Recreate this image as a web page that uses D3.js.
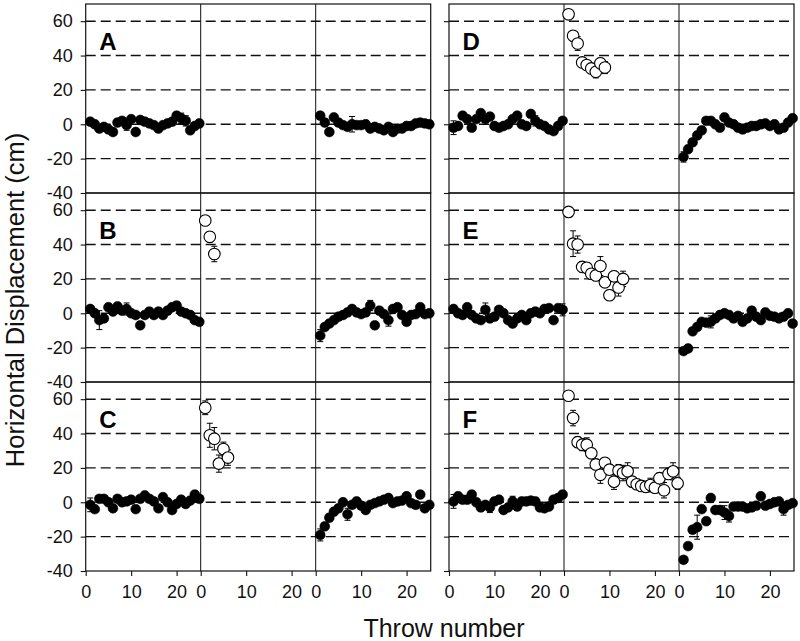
<!DOCTYPE html>
<html><head><meta charset="utf-8">
<script src="https://cdn.jsdelivr.net/npm/d3@7"></script>
<style>body{margin:0;background:#fff} svg{display:block}</style>
</head><body><svg id="c" width="800" height="641"></svg>
<script>
// ---------- data ----------
const throwNumbers = [1,2,3,4,5,6,7,8,9,10,11,12,13,14,15,16,17,18,19,20,21,22,23,24,25];
const panelLetters = ["A","B","C","D","E","F"];
const yTickValues = [60,40,20,0,-20,-40];
const gridValues = [60,40,20,0,-20];
const xTickValues = [0,10,20];
const xTitle = "Throw number";
const yTitle = "Horizontal Displacement (cm)";

// A
const A_base = [1.5,0,-2.5,-1.5,-3,-4.5,1,2,-0.5,3,-4.5,2.5,1.5,0.5,-0.5,-2.5,-0.5,0.5,1.5,5,3.5,2,-3.5,-1,0.5];
const A_baseErr = [2,2,2,2,2,2,2,2,3,2,2,2,2,2,2,2,2,2,2,2,3,3,2,2,2];
const A_adapt = [];
const A_adaptErr = [];
const A_post = [5,1,-4.5,4,1,-0.5,-1.5,0,-0.5,-0.5,0,-2.5,-1.5,-2.5,-3.5,-1.5,-4.5,-2.5,-2.5,-1,-1,0.5,1,0.5,0];
const A_postErr = [2,2,2,2,2,2,2,4.5,2,2,2,2,2,2,2,2,2,2,2,2,2,2,2,2,2];
// B
const B_base = [2.5,0,-4,-3,3.5,1,4,1.5,2.5,0,-1,-7,-1,1,-1,1,-1,1.5,3.5,4.5,1,0,-1,-4,-5];
const B_baseErr = [2,2,5.5,2,2,2,2,2,3.5,2,2,2,2,2,2,2,2,2,2,2,2,2,2,2,2];
const B_adapt = [54,44.5,34.5];
const B_adaptErr = [2,3,4.5];
const B_post = [-13,-8,-6,-4,-2,-1,0.5,2.5,0.5,-0.5,0.5,4.5,-7,1.5,-0.5,-4,2.5,3.5,-1,-5,-1,-0.5,3.5,-0.5,0];
const B_postErr = [3.5,2,2,2,2,2,2,2,2,2,2,3,2,2,2,3.5,2,2,2,2,2,2,2,2,2];
// C
const C_base = [-1.5,-4,2,2,0,-3.5,2,0,0.5,1.5,-4,2,4,2,0.5,-3.5,3,0,-4.5,-1,1.5,-1,1,4.5,2];
const C_baseErr = [4,2,2,2,2,2,2,2,2,2,2,2,2,2,2,2,2,2,2,2,2,2,2,2,2];
const C_adapt = [55,39,37,22.5,31,26];
const C_adaptErr = [4,7,6.5,5,4,4.5];
const C_post = [-19,-14,-9,-5.5,-3.5,0,-7,-1.5,0.5,-2,-4.5,-1.5,-0.5,0.5,1.5,2.5,-0.5,0.5,1,3.5,-0.5,-1.5,4.5,-3.5,-1.5];
const C_postErr = [3.5,2,2,2,2,2,3.5,2,2,2,2,2,2,2,2,2,2,2,2,2,2,2,2,2,2];
// D
const D_base = [-2,-1,5,3,-2,3,6.5,3,4.5,-1,-2,-1,0,3,5,0,-1,6,2,0,-1,-3,-4,-1,2];
const D_baseErr = [4,2,2,2,2,2,2,2,2,2,2,2,2,2,2,2,2,2,3,2,2,2,2,2,2];
const D_adapt = [64,51.5,47,36,34.5,32.5,30.5,35.5,33];
const D_adaptErr = [1.5,3,4,2.5,2,2.5,3.5,3,3.5];
const D_post = [-19,-14.5,-10.5,-6.5,-3.5,2,2,0,-2,4,1,0,-2,-3,-2,-1,-1,0,0.5,-1,0,-3,-2,1,3.5];
const D_postErr = [3,2,2,2,2,2,2,2,2,2,2,2,2,2,2,2,2,2,2,2,2,2,2,2,2];
// E
const E_base = [2.5,0,-1,3.5,-1,-3,-4,2,-3,-2,2,0,-4,-6,-3,-1,-4,0,1,0,2.5,3,-4,3,2];
const E_baseErr = [2,2,2,2,2,2,2,4,2,2,2,2,2,2,2,2,2,2,2,2,2,2,2,2,3.5];
const E_adapt = [59,40.5,40,27,26.5,23,22,27.5,18,10.5,21.5,15,20];
const E_adaptErr = [1.5,7.5,5,3,3,3,3,5.5,3,3,3,5,4.5];
const E_post = [-22,-20.5,-10.5,-8,-5,-5.5,-5,-3,-1,0,-1,-3,-1.5,-5,-3,1.5,-2,-4,0.5,-1.5,-2,-3,-2,0,-6];
const E_postErr = [2,2,2,2,2,2,3.5,2,2,2,2,2,2,2,2,2,2,2,2,2,2,2,2,2,2];
// F
const F_base = [0.5,3.5,1.5,1.5,4.5,0,-3,-1.5,-3,0.5,1.5,-4.5,-3,0.5,-2.5,0.5,0.5,1,0.5,-3,-3.5,-2.5,1.5,2.5,4.5];
const F_baseErr = [4,2,2,2,2,2,2,2,3,2,2,2,2,3,2,2,2,2,2,2,2,2,2,2,2];
const F_adapt = [62,49,35,33.5,33.5,28.5,22,16,23,19,12,18.5,17,18,12,10.5,9.5,9,10,8.5,14,7,16.5,18,11];
const F_adaptErr = [1.5,4.5,3,3.5,4,3,3,5,3,3,4.5,3.5,4.5,5,3,3,3,3,4,3,3,4.5,3,5,3.5];
const F_post = [-33.5,-25.5,-16,-14.5,-4,-11,2.5,-4.5,-4.5,-6,-8,-2.5,-2.5,-2.5,-3.5,-3,-2,3.5,-2,-1,0,0.5,-4,-1.5,-0.5];
const F_postErr = [2,2,2,7,2,2,2,2,2,4,3.5,2,2,2,2,2,2,2,2,2,2,2,3.5,2,2];

// ---------- build panels ----------
function seg(vals, errs, open) {
  return vals.map((v, i) => ({x: throwNumbers[i], y: v, e: errs[i], open}));
}
const panelSeries = [
  [seg(A_base,A_baseErr,false), seg(A_adapt,A_adaptErr,true), seg(A_post,A_postErr,false)],
  [seg(B_base,B_baseErr,false), seg(B_adapt,B_adaptErr,true), seg(B_post,B_postErr,false)],
  [seg(C_base,C_baseErr,false), seg(C_adapt,C_adaptErr,true), seg(C_post,C_postErr,false)],
  [seg(D_base,D_baseErr,false), seg(D_adapt,D_adaptErr,true), seg(D_post,D_postErr,false)],
  [seg(E_base,E_baseErr,false), seg(E_adapt,E_adaptErr,true), seg(E_post,E_postErr,false)],
  [seg(F_base,F_baseErr,false), seg(F_adapt,F_adaptErr,true), seg(F_post,F_postErr,false)]
];

// ---------- layout ----------
const svg = d3.select("#c");
const FONT = "'Liberation Sans', Arial, Helvetica, sans-serif";
const blockX = [85.7, 449];
const subW = 115;
const top0 = 4, rowH = 189;

const x = d3.scaleLinear().domain([0, 25.3]).range([0, subW]);
const y = d3.scaleLinear().domain([-40, 70]).range([rowH, 0]);

panelLetters.forEach((letter, p) => {
  const col = p < 3 ? 0 : 1;
  const row = p % 3;
  const g = svg.append("g")
    .attr("transform", `translate(${blockX[col]},${top0 + row * rowH})`);

  // dashed grid
  g.selectAll("line.grid").data(gridValues).enter().append("line")
    .attr("x1", 0).attr("x2", 3 * subW)
    .attr("y1", d => y(d)).attr("y2", d => y(d))
    .attr("stroke", "#111").attr("stroke-width", 1.4)
    .attr("stroke-dasharray", "10,5");

  // border
  g.append("rect").attr("x", 0).attr("y", 0)
    .attr("width", 3 * subW).attr("height", rowH)
    .attr("fill", "none").attr("stroke", "#111").attr("stroke-width", 1.2);
  // dividers
  [1, 2].forEach(k => g.append("line")
    .attr("x1", k * subW).attr("x2", k * subW).attr("y1", 0).attr("y2", rowH)
    .attr("stroke", "#111").attr("stroke-width", 1));

  // left axis
  const ax = d3.axisLeft(y).tickValues(yTickValues).tickSize(5).tickPadding(8)
    .tickFormat(d => col === 0 ? String(d) : "");
  const ag = g.append("g").call(ax);
  ag.select(".domain").remove();
  ag.selectAll("line").attr("stroke", "#111").attr("stroke-width", 1.1);
  ag.selectAll("text").attr("font-family", FONT).attr("font-size", 18).attr("fill", "#111");

  // bottom axes
  if (row === 2) {
    for (let k = 0; k < 3; k++) {
      const bx = d3.axisBottom(x).tickValues(xTickValues).tickSize(5).tickPadding(9)
        .tickFormat(d => String(d));
      const bg = g.append("g").attr("transform", `translate(${k * subW},${rowH})`).call(bx);
      bg.select(".domain").remove();
      bg.selectAll("line").attr("stroke", "#111").attr("stroke-width", 1.1);
      bg.selectAll("text").attr("font-family", FONT).attr("font-size", 18).attr("fill", "#111");
    }
  }

  // letter
  g.append("text").attr("x", 13.5).attr("y", 46)
    .attr("font-family", FONT).attr("font-weight", "bold").attr("font-size", 24)
    .attr("fill", "#000").text(letter);

  // data
  panelSeries[p].forEach((pts, k) => {
    const sg = g.append("g").attr("transform", `translate(${k * subW},0)`);
    const eb = sg.selectAll("g.eb").data(pts).enter().append("g");
    eb.append("line")
      .attr("x1", d => x(d.x)).attr("x2", d => x(d.x))
      .attr("y1", d => y(d.y - d.e)).attr("y2", d => y(d.y + d.e))
      .attr("stroke", "#000").attr("stroke-width", 1);
    eb.append("line")
      .attr("x1", d => x(d.x) - 3).attr("x2", d => x(d.x) + 3)
      .attr("y1", d => y(d.y + d.e)).attr("y2", d => y(d.y + d.e))
      .attr("stroke", "#000").attr("stroke-width", 1);
    eb.append("line")
      .attr("x1", d => x(d.x) - 3).attr("x2", d => x(d.x) + 3)
      .attr("y1", d => y(d.y - d.e)).attr("y2", d => y(d.y - d.e))
      .attr("stroke", "#000").attr("stroke-width", 1);
    sg.selectAll("circle").data(pts).enter().append("circle")
      .attr("cx", d => x(d.x)).attr("cy", d => y(d.y))
      .attr("r", d => d.open ? 5.8 : 4.9)
      .attr("fill", d => d.open ? "#fff" : "#000")
      .attr("stroke", "#000").attr("stroke-width", d => d.open ? 1.1 : 0.6);
  });
});

// titles
svg.append("text").attr("x", 444).attr("y", 637).attr("text-anchor", "middle")
  .attr("font-family", FONT).attr("font-size", 25).attr("fill", "#111").text(xTitle);
svg.append("text").attr("transform", "translate(24,300) rotate(-90)")
  .attr("text-anchor", "middle")
  .attr("font-family", FONT).attr("font-size", 25.5).attr("fill", "#111").text(yTitle);
</script>
</body></html>
